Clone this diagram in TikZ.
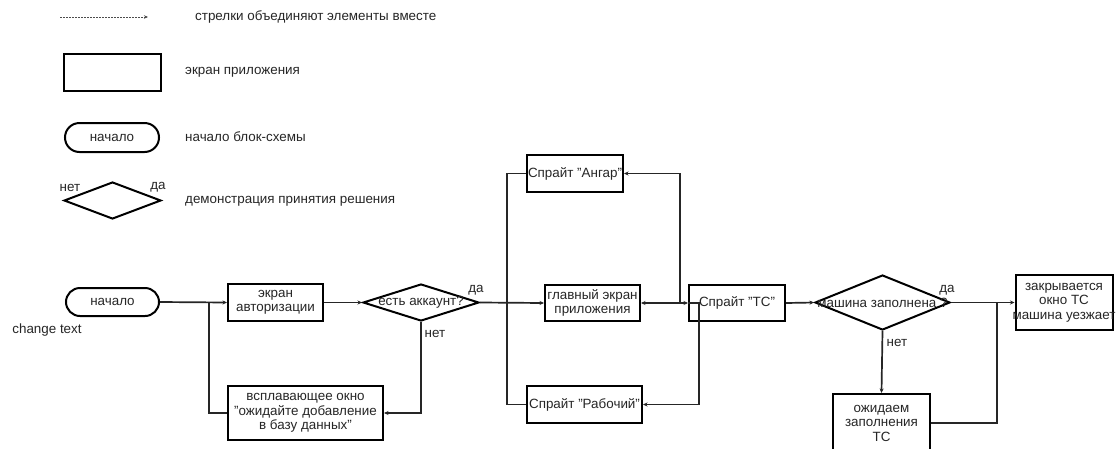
\documentclass[tikz,border=0pt]{standalone}
\usepackage{fontspec}
\setmainfont{Liberation Sans}
\usetikzlibrary{shapes.geometric,shapes.misc,arrows.meta}
\begin{document}
\begin{tikzpicture}[x=1pt,y=-1pt,
  font=\fontsize{13.4}{14.5}\selectfont,
  every node/.style={text=black!85},
  box/.style={draw=black, line width=2pt, rectangle, inner sep=1pt, align=center},
  term/.style={draw=black, line width=2pt, rounded rectangle, inner sep=1pt},
  dia/.style={draw=black, line width=2pt, diamond, inner sep=0pt},
  conn/.style={draw=black!85, line width=1.7pt},
  arr/.style={conn, -{Stealth[length=4.5pt,width=4pt]}},
  lbl/.style={inner sep=0pt, anchor=west}
]
\useasboundingbox (0,0) rectangle (1116,448);
\fill[white] (0,0) rectangle (1116,448);

% legend
\coordinate (la1) at (60,17);
\coordinate (la2) at (148,17);
\draw[draw=black!70, line width=0.9pt, dash pattern=on 2pt off 1pt, -{Stealth[length=4pt,width=3.5pt]}] (la1) -- (la2);
\node[lbl] (lt1) at (195,17) {стрелки объединяют элементы вместе};
\node[box, minimum width=97pt, minimum height=37pt] (lrect) at (112.5,72.5) {};
\node[lbl] (lt2) at (185,72) {экран приложения};
\node[term, minimum width=96pt, minimum height=29pt] (lterm) at (112,137.5) {начало};
\node[lbl] (lt3) at (185,137) {начало блок-схемы};
\node[dia, minimum width=97pt, minimum height=37pt] (ldia) at (112.5,200.5) {};
\node[inner sep=0pt] (lno) at (70,188) {нет};
\node[inner sep=0pt] (lyes) at (158,187) {да};
\node[lbl] (lt4) at (185,201) {демонстрация принятия решения};

% main flow
\node[term, minimum width=95pt, minimum height=28pt] (start) at (112.5,302) {начало};
\node[inner sep=0pt] (chg) at (47,330) {change text};
\node[box, minimum width=95pt, minimum height=37pt] (auth) at (275.5,302.5) {экран\\авторизации};
\node[dia, minimum width=116pt, minimum height=37pt] (d1) at (421,302.5) {};
\node[inner sep=0pt] (d1t) at (421,302.5) {есть аккаунт?};
\node[box, minimum width=155pt, minimum height=54pt] (popup) at (305.5,413) {всплавающее окно\\"ожидайте добавление\\в базу данных"};
\node[box, minimum width=95pt, minimum height=36pt] (main) at (592.5,303) {главный экран\\приложения};
\node[box, minimum width=96pt, minimum height=37pt] (hangar) at (575,173.5) {Спрайт "Ангар"};
\node[box, minimum width=115pt, minimum height=37pt] (worker) at (584.5,404.5) {Спрайт "Рабочий"};
\node[box, minimum width=96pt, minimum height=36pt] (ts) at (737,303) {Спрайт "ТС"};
\node[dia, minimum width=135pt, minimum height=55pt] (d2) at (882.5,302.5) {};
\node[inner sep=0pt] (d2t) at (882.5,302.5) {машина заполнена ?};
\node[box, minimum width=97pt, minimum height=55pt] (close) at (1064,302.5) {};
\node[inner sep=0pt, align=center] (closet) at (1064,302.5) {закрывается\\окно ТС\\машина уезжает};
\node[box, minimum width=97pt, minimum height=58pt, anchor=north] (wait) at (881.5,393) {ожидаем\\заполнения\\ТС};

% labels
\node[inner sep=0pt] (y1) at (476,290) {да};
\node[inner sep=0pt] (n1) at (435,334) {нет};
\node[inner sep=0pt] (y2) at (947,290) {да};
\node[inner sep=0pt] (n2) at (897,343) {нет};

% junctions
\coordinate (j1) at (209,302);
\coordinate (j2) at (507,302);
\coordinate (j3) at (680,303);
\coordinate (j5) at (997,302);

% connectors
\draw[arr] (start.east) -- (auth.west);
\draw[conn] (popup.west) -| (j1);
\draw[arr] (auth.east) -- (d1.west);
\draw[arr] (d1.south) |- (popup.east);
\draw[arr] (d1.east) -- (main.west);
\draw[conn] (hangar.west) -| (j2) |- (worker.west);
\draw[conn, {Stealth[length=4.5pt,width=4pt]}-{Stealth[length=4.5pt,width=4pt]}] (main.east) -- (ts.west);
\draw[arr] (j3) |- (hangar.east);
\draw[arr] (ts.west) -- ++(11,0) |- (worker.east);
\draw[arr] (ts.east) -- (d2.west);
\draw[arr] (d2.east) -- (close.west);
\draw[conn] (wait.east) -| (j5);
\draw[arr] (d2.south) -- (wait.north);
\end{tikzpicture}
\end{document}
